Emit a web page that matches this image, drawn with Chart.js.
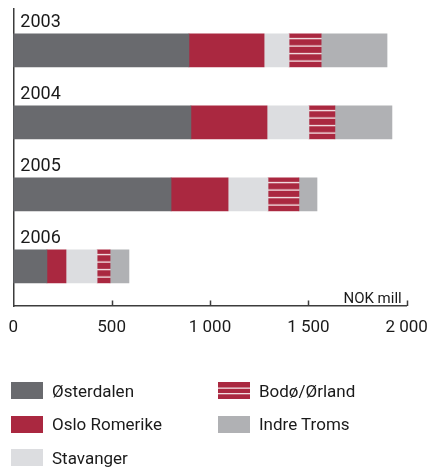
<!DOCTYPE html>
<html>
<head>
<meta charset="utf-8">
<script src="https://cdn.jsdelivr.net/npm/chart.js@4"></script>
<style>
  html, body { margin: 0; padding: 0; background: #fff; }
  body { width: 432px; height: 467px; position: relative; overflow: hidden; font-family: Roboto, sans-serif; color: #1a1a1a; }
  #wrap { position: absolute; left: 0; top: 0; width: 432px; height: 352px; }
  #legend {
    position: absolute; left: 11px; top: 382px;
    display: grid; grid-auto-flow: column;
    grid-template-columns: 207px auto;
    grid-template-rows: repeat(3, 17px); row-gap: 16.5px;
  }
  .item { display: flex; align-items: center; font-size: 17px; white-space: nowrap; }
  .item canvas { margin-right: 9px; flex: none; }
</style>
</head>
<body>
<div id="wrap"><canvas id="chart"></canvas></div>
<div id="legend"></div>
<script>
const years = ['2003', '2004', '2005', '2006'];
const osterdalen = [893, 903, 802, 171];
const osloRomerike = [382, 387, 290, 97];
const stavanger = [127, 213, 203, 158];
const bodoOrland = [163, 132, 157, 66];
const indreTroms = [335, 290, 92, 96];
const xTicks = [0, 500, 1000, 1500, 2000];

const DARK = '#696a6e';
const RED = '#aa2840';
const LIGHT = '#dcdde0';
const MID = '#b0b1b4';
const AXIS = '#3c3c3c';
const BAR = 33;

function points(values) {
  return values.map((v, i) => ({ x: v, y: i }));
}

function fmt(v) {
  return String(v).replace(/\B(?=(\d{3})+(?!\d))/g, ' ');
}

// red fill with thin white stripes, anchored to the top of each bar
function stripes(ctx) {
  const chart = ctx.chart;
  const y = chart.scales.y;
  if (!y || ctx.dataIndex === undefined) return RED;
  const tile = document.createElement('canvas');
  tile.width = 4; tile.height = 15;
  const t = tile.getContext('2d');
  t.fillStyle = RED;
  t.fillRect(0, 0, 4, 15);
  t.fillStyle = 'rgba(255,255,255,0.9)';
  t.fillRect(0, 4, 4, 1.3);
  t.fillRect(0, 11.5, 4, 1.3);
  const p = chart.ctx.createPattern(tile, 'repeat');
  const top = y.getPixelForValue(ctx.dataIndex) - BAR / 2;
  p.setTransform(new DOMMatrix().translate(0, top));
  return p;
}

const annotate = {
  id: 'annotate',
  afterDraw(chart) {
    const { ctx, chartArea: area, scales: { x, y } } = chart;
    ctx.save();
    ctx.fillStyle = '#1a1a1a';
    ctx.font = '18px Roboto';
    ctx.textAlign = 'left';
    ctx.textBaseline = 'alphabetic';
    years.forEach((yr, i) => {
      const top = y.getPixelForValue(i) - BAR / 2;
      ctx.fillText(yr, area.left + 7, top - 6.5);
    });

    // small tick marks pointing up from the axis
    ctx.strokeStyle = AXIS;
    ctx.lineWidth = 1.5;
    ctx.beginPath();
    xTicks.slice(1).forEach(v => {
      const px = Math.round(x.getPixelForValue(v)) + 0.5;
      ctx.moveTo(px, area.bottom);
      ctx.lineTo(px, area.bottom - 5.5);
    });
    ctx.stroke();

    ctx.font = '15px Roboto';
    ctx.textAlign = 'right';
    ctx.fillText('NOK mill', area.right - 5, area.bottom - 3);
    ctx.restore();
  }
};

const chart = new Chart(document.getElementById('chart'), {
  type: 'bar',
  data: {
    datasets: [
      { label: 'Østerdalen', data: points(osterdalen), backgroundColor: DARK },
      { label: 'Oslo Romerike', data: points(osloRomerike), backgroundColor: RED },
      { label: 'Stavanger', data: points(stavanger), backgroundColor: LIGHT },
      { label: 'Bodø/Ørland', data: points(bodoOrland), backgroundColor: stripes },
      { label: 'Indre Troms', data: points(indreTroms), backgroundColor: MID }
    ]
  },
  options: {
    indexAxis: 'y',
    responsive: true,
    maintainAspectRatio: false,
    animation: false,
    barThickness: BAR,
    borderWidth: 0,
    layout: { padding: { left: 13.3, right: 25.3, top: 9, bottom: 2.3 } },
    plugins: { legend: { display: false }, tooltip: { enabled: false } },
    scales: {
      x: {
        type: 'linear',
        stacked: true,
        bounds: 'data',
        min: 0,
        max: 2000,
        afterBuildTicks: s => { s.ticks = xTicks.map(v => ({ value: v })); },
        grid: { display: false, drawTicks: false },
        border: { display: true, color: AXIS, width: 1.5 },
        ticks: {
          padding: 4,
          color: '#1a1a1a',
          font: { family: 'Roboto', size: 17, lineHeight: 2.1 },
          callback: v => fmt(v)
        }
      },
      y: {
        type: 'linear',
        stacked: true,
        reverse: true,
        offset: false,
        bounds: 'data',
        min: -0.574,
        max: 3.551,
        grid: { display: false, drawTicks: false, offset: false },
        border: { display: true, color: AXIS, width: 1.5 },
        ticks: { display: false }
      }
    }
  },
  plugins: [annotate]
});

// legend in two columns, swatches painted the same way as the bars
const legend = document.getElementById('legend');
chart.data.datasets.forEach(ds => {
  const item = document.createElement('div');
  item.className = 'item';
  const sw = document.createElement('canvas');
  sw.width = 32; sw.height = 17;
  const c = sw.getContext('2d');
  if (typeof ds.backgroundColor === 'function') {
    c.fillStyle = RED;
    c.fillRect(0, 0, 32, 17);
    c.fillStyle = 'rgba(255,255,255,0.85)';
    c.fillRect(0, 5.5, 32, 1.3);
    c.fillRect(0, 11, 32, 1.3);
  } else {
    c.fillStyle = ds.backgroundColor;
    c.fillRect(0, 0, 32, 17);
  }
  item.appendChild(sw);
  const label = document.createElement('span');
  label.textContent = ds.label;
  item.appendChild(label);
  legend.appendChild(item);
});
</script>
</body>
</html>
